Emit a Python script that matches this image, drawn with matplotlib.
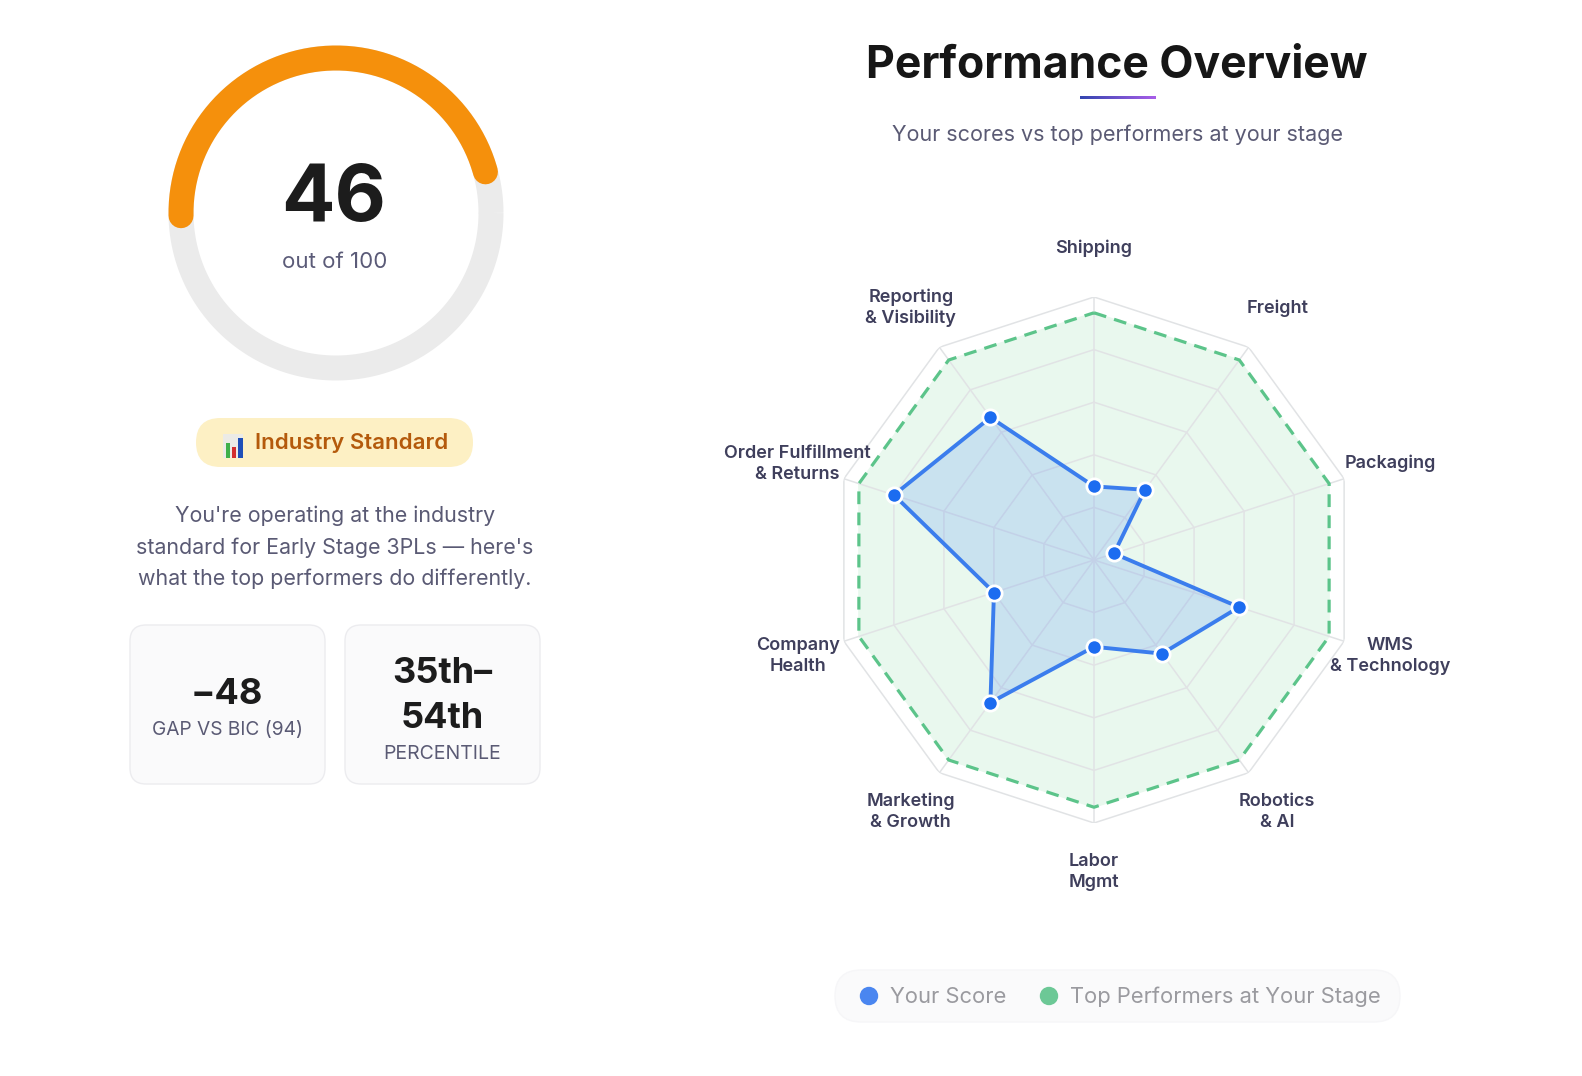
import numpy as np
import matplotlib.pyplot as plt
from matplotlib.patches import FancyBboxPatch, Rectangle
from matplotlib.colors import LinearSegmentedColormap

plt.rcParams['font.family'] = ['Inter', 'DejaVu Sans']

# ---- data ----
overall_score = 46
score_max = 100
categories = ['Shipping', 'Freight', 'Packaging', 'WMS\n& Technology', 'Robotics\n& AI',
              'Labor\nMgmt', 'Marketing\n& Growth', 'Company\nHealth',
              'Order Fulfillment\n& Returns', 'Reporting\n& Visibility']
your_scores = [28, 33, 8, 58, 44, 33, 67, 40, 80, 67]
top_scores = [94, 94, 94, 94, 94, 94, 94, 94, 94, 94]
ring_levels = [20, 40, 60, 80, 100]
gap_text = '\u221248'
gap_label = 'GAP VS BIC (94)'
pct_text = '35th\u2013\n54th'
pct_label = 'PERCENTILE'
badge_text = 'Industry Standard'
desc_lines = ["You're operating at the industry",
              "standard for Early Stage 3PLs \u2014 here's",
              "what the top performers do differently."]
legend_labels = ['Your Score', 'Top Performers at Your Stage']

W, H = 1582, 1076
fig = plt.figure(figsize=(W / 100, H / 100), dpi=100)
fig.patch.set_facecolor('white')

# overlay axes in pixel units
ov = fig.add_axes([0, 0, 1, 1])
ov.set_xlim(0, W)
ov.set_ylim(H, 0)
ov.axis('off')

# ---- gauge ----
gx, gy, gr = 336, 213, 155
t = np.linspace(0, 2 * np.pi, 400)
ov.plot(gx + gr * np.cos(t), gy - gr * np.sin(t), color='#ebebeb', lw=18, solid_capstyle='butt', zorder=1)
start = np.deg2rad(181)
t2 = np.linspace(start, start - 2 * np.pi * overall_score / score_max, 200)
ov.plot(gx + gr * np.cos(t2), gy - gr * np.sin(t2), color='#f5900c', lw=18, solid_capstyle='round', zorder=2)
ov.text(gx - 2, 200, str(overall_score), ha='center', va='center', fontsize=57, fontweight='bold',
        color='#1c1c1c')
ov.text(gx - 1, 262, 'out of %d' % score_max, ha='center', va='center', fontsize=16, color='#5b5b78')

# ---- badge ----
ov.add_patch(FancyBboxPatch((196, 418), 277, 49, boxstyle='round,pad=0,rounding_size=24.5',
                            fc='#fdf0c4', ec='none', zorder=1))
ov.add_patch(Rectangle((223, 434), 20, 24, fc='#ecebe6', ec='none', zorder=2))
for bx, btop, bc in [(225.5, 443, '#3fb04a'), (231.5, 447, '#d32f2f'), (237.8, 437.5, '#1f4fb8')]:
    ov.add_patch(Rectangle((bx, btop), 4.8, 457.5 - btop, fc=bc, ec='none', zorder=3))
ov.text(352, 443, badge_text, ha='center', va='center', fontsize=16, fontweight='semibold', color='#b45a0c')

for i, line in enumerate(desc_lines):
    ov.text(335, 516 + i * 31.3, line, ha='center', va='center', fontsize=15.4, color='#5a5a74')

# ---- cards ----
for x0 in (130, 345):
    ov.add_patch(FancyBboxPatch((x0, 625), 195, 159, boxstyle='round,pad=0,rounding_size=16',
                                fc='#fafafb', ec='#ececef', lw=1, zorder=1))
ov.text(227, 694, gap_text, ha='center', va='center', fontsize=26, fontweight='bold', color='#1c1c1c')
ov.text(227, 730, gap_label, ha='center', va='center', fontsize=13.8, color='#5a5a74')
ov.text(442, 696, pct_text, ha='center', va='center', fontsize=26, fontweight='bold', color='#1c1c1c',
        linespacing=1.48)
ov.text(442, 754, pct_label, ha='center', va='center', fontsize=14, color='#5a5a74')

# ---- title ----
ov.text(1117, 66, 'Performance Overview', ha='center', va='center', fontsize=32, fontweight='bold',
        color='#161616')
grad = np.linspace(0, 1, 100).reshape(1, -1)
cm = LinearSegmentedColormap.from_list('u', ['#3446b0', '#a85ee8'])
ov.imshow(grad, cmap=cm, extent=(1080, 1156, 99, 96), aspect='auto', zorder=2)
ov.set_xlim(0, W)
ov.set_ylim(H, 0)
ov.text(1117, 135, 'Your scores vs top performers at your stage', ha='center', va='center',
        fontsize=15.5, color='#5a5a74')

# ---- legend ----
ov.add_patch(FancyBboxPatch((835, 970), 565, 52, boxstyle='round,pad=0,rounding_size=26',
                            fc='#fafafb', ec='#f6f6f8', lw=1, zorder=1))
ov.scatter([869, 1049], [996, 996], s=150, c=['#4a86f0', '#6cc896'], zorder=3)
ov.text(890, 997, legend_labels[0], ha='left', va='center', fontsize=15.8, color='#9a9a9f')
ov.text(1070, 997, legend_labels[1], ha='left', va='center', fontsize=15.8, color='#9a9a9f')

# ---- radar ----
cx, cy, R = 1094, 560, 263
ax = fig.add_axes([(cx - R) / W, (H - cy - R) / H, 2 * R / W, 2 * R / H], projection='polar')
ax.set_theta_zero_location('N')
ax.set_theta_direction(-1)
ax.set_ylim(0, 100)
ax.axis('off')
ax.patch.set_alpha(0)

n = len(categories)
theta = np.linspace(0, 2 * np.pi, n, endpoint=False)
tc = np.append(theta, theta[0])

ax.fill(tc, top_scores + top_scores[:1], color='#e9f8ee', zorder=1)
for lv in ring_levels:
    ax.plot(tc, [lv] * (n + 1), color='#e1e3e5', lw=1.1, zorder=2)
for th in theta:
    ax.plot([th, th], [0, 100], color='#e1e3e5', lw=1.1, zorder=2)
ax.plot(tc, top_scores + top_scores[:1], color='#5cc48a', lw=2.3, ls=(0, (4, 2.6)), zorder=3)
ax.fill(tc, your_scores + your_scores[:1], color='#3b82f6', alpha=0.18, zorder=4)
ax.plot(tc, your_scores + your_scores[:1], color='#3b7ded', lw=2.8, zorder=5)
ax.plot(theta, your_scores, 'o', ms=11, mfc='#1c6cf0', mec='white', mew=2, zorder=6)

for th, lab in zip(theta, categories):
    ax.text(th, 118.5, lab, ha='center', va='center', fontsize=13, fontweight='semibold',
            color='#3f3f5c', linespacing=1.3)

fig.savefig('out.png', dpi=100, facecolor='white')
